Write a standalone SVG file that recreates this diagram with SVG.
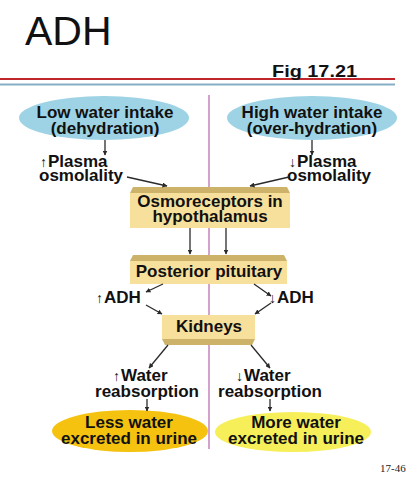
<svg xmlns="http://www.w3.org/2000/svg" width="410" height="479" viewBox="0 0 410 479">
<defs>
<marker id="ah" viewBox="0 0 10 10" refX="9" refY="5" markerWidth="5" markerHeight="5" orient="auto" markerUnits="userSpaceOnUse">
<path d="M0,0 L10,5 L0,10 z" fill="#2a2a2a"/>
</marker>
</defs>
<style>
.t{font-family:"Liberation Sans",Arial,sans-serif;font-weight:bold;font-size:17px;fill:#111;}
.c{text-anchor:middle;}
.sm{font-family:"Liberation Sans",Arial,sans-serif;font-size:14px;fill:#111;}
.box{fill:#F7E09C;}
.bev{fill:#CDB36A;}
.ar{stroke:#2a2a2a;stroke-width:1.3;fill:none;marker-end:url(#ah);}
</style>
<rect width="410" height="479" fill="#fff"/>
<text x="25" y="45" font-family="Liberation Sans,Arial,sans-serif" font-size="41" fill="#111">ADH</text>
<line x1="0" y1="79" x2="395" y2="79" stroke="#C0262C" stroke-width="2.2"/>
<line x1="0" y1="84.5" x2="395" y2="84.5" stroke="#86AFC6" stroke-width="2.2"/>
<text x="272" y="77" font-family="Liberation Sans,Arial,sans-serif" font-weight="bold" font-size="17" textLength="85" lengthAdjust="spacingAndGlyphs" fill="#111">Fig 17.21</text>
<line x1="209" y1="95" x2="209" y2="449" stroke="#C98BC0" stroke-width="1.6"/>
<g id="low">
<ellipse cx="104" cy="118" rx="85" ry="22" fill="#9DD3E4"/>
<text class="t c" x="105" y="118">Low water intake</text>
<text class="t c" x="105" y="134">(dehydration)</text>
</g>
<g id="high">
<ellipse cx="312" cy="118" rx="85" ry="22" fill="#9DD3E4"/>
<text class="t c" x="312" y="118">High water intake</text>
<text class="t c" x="312" y="134">(over-hydration)</text>
</g>
<g id="plasmaL">
<text class="sm" x="40" y="167">↑</text>
<text class="t" x="48" y="167">Plasma</text>
<text class="t" x="39" y="181">osmolality</text>
</g>
<g id="plasmaR">
<text class="sm" x="289" y="167">↓</text>
<text class="t" x="297" y="167">Plasma</text>
<text class="t" x="287" y="181">osmolality</text>
</g>
<g id="osmo">
<polygon class="bev" points="133,187 287,187 290,193 130,193"/>
<rect class="box" x="130" y="193" width="160" height="35"/>
<text class="t c" x="210" y="207">Osmoreceptors in</text>
<text class="t c" x="210" y="222">hypothalamus</text>
</g>
<g id="pit">
<polygon class="bev" points="133,255 284,255 287,261 130,261"/>
<rect class="box" x="130" y="261" width="157" height="23"/>
<text class="t c" x="209" y="277">Posterior pituitary</text>
</g>
<g id="adhL">
<text class="sm" x="96" y="303">↑</text>
<text class="t" x="104" y="303">ADH</text>
</g>
<g id="adhR">
<text class="sm" x="269" y="303">↓</text>
<text class="t" x="277" y="303">ADH</text>
</g>
<g id="kid">
<rect class="box" x="162" y="315" width="93" height="24"/>
<polygon class="bev" points="162,339 255,339 252,345 165,345"/>
<text class="t c" x="209" y="332">Kidneys</text>
</g>
<g id="waterL">
<text class="sm" x="113" y="381">↑</text>
<text class="t" x="121" y="381">Water</text>
<text class="t c" x="147" y="397">reabsorption</text>
</g>
<g id="waterR">
<text class="sm" x="236" y="381">↓</text>
<text class="t" x="244" y="381">Water</text>
<text class="t c" x="270" y="397">reabsorption</text>
</g>
<g id="less">
<ellipse cx="130" cy="431" rx="78" ry="21" fill="#F4C20F"/>
<text class="t c" x="129" y="428">Less water</text>
<text class="t c" x="129" y="444">excreted in urine</text>
</g>
<g id="more">
<ellipse cx="293" cy="432" rx="78" ry="20" fill="#F6EF5A"/>
<text class="t c" x="296" y="428">More water</text>
<text class="t c" x="296" y="444">excreted in urine</text>
</g>
<text x="380" y="472" font-family="Liberation Serif,Times New Roman,serif" font-size="11" fill="#222">17-46</text>
<g id="connectors">
<line class="ar" x1="105" y1="140" x2="105" y2="155"/>
<line class="ar" x1="312" y1="140" x2="312" y2="155"/>
<line class="ar" x1="127" y1="177" x2="167" y2="186"/>
<line class="ar" x1="289" y1="177" x2="250" y2="186"/>
<line class="ar" x1="190" y1="228" x2="190" y2="254"/>
<line class="ar" x1="226" y1="228" x2="226" y2="254"/>
<line class="ar" x1="163" y1="284" x2="146" y2="292"/>
<line class="ar" x1="146" y1="305" x2="162" y2="314"/>
<line class="ar" x1="254" y1="284" x2="271" y2="296"/>
<line class="ar" x1="271" y1="303" x2="255" y2="314"/>
<line class="ar" x1="168" y1="345" x2="149" y2="368"/>
<line class="ar" x1="251" y1="345" x2="270" y2="368"/>
<line class="ar" x1="147" y1="399" x2="147" y2="411"/>
<line class="ar" x1="270" y1="399" x2="270" y2="411"/>
</g>
</svg>
